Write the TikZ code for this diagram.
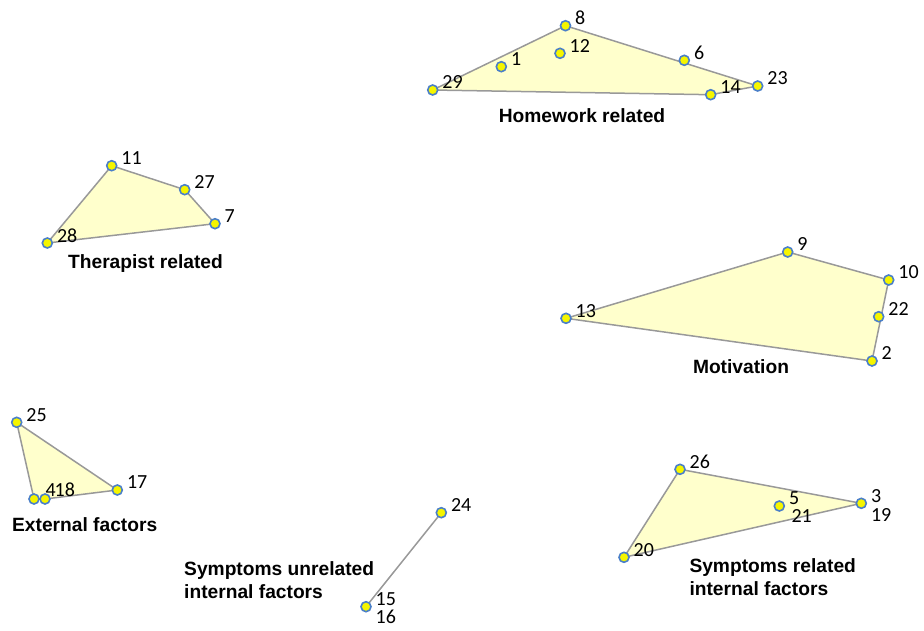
\documentclass[tikz,border=0pt]{standalone}
\usepackage{fontspec}
\setmainfont{Liberation Sans}
\newfontfamily\numfont{Carlito}
\usetikzlibrary{calc}
\definecolor{polyfill}{HTML}{FFFFCC}
\definecolor{polyline}{HTML}{999999}
\definecolor{dotline}{HTML}{4A7FC8}
\definecolor{dotfill}{HTML}{F5F500}
\tikzset{
  pt/.style={circle,draw=dotline,fill=dotfill,line width=1.6pt,minimum size=10pt,inner sep=0pt},
  poly/.style={draw=polyline,fill=polyfill,line width=1.5pt,line join=round},
  seg/.style={draw=polyline,line width=1.5pt},
  num/.style={font=\numfont\fontsize{20}{20}\selectfont,anchor=west,inner sep=0pt},
  grp/.style={font=\bfseries\fontsize{19.2}{23}\selectfont,inner sep=0pt,align=left}
}
\begin{document}
\begin{tikzpicture}[x=1pt,y=-1pt]
\useasboundingbox (0,0) rectangle (924,630);
% coordinates
\coordinate (c8) at (565.5,25.7);
\coordinate (c1) at (501.3,66.7);
\coordinate (c12) at (560,53.3);
\coordinate (c6) at (684.3,60.3);
\coordinate (c29) at (432.7,90);
\coordinate (c14) at (710.7,94.7);
\coordinate (c23) at (757.7,86);
\coordinate (c11) at (111.7,165.7);
\coordinate (c27) at (184.7,189.7);
\coordinate (c7) at (215,223.7);
\coordinate (c28) at (47.3,243);
\coordinate (c9) at (787.7,252);
\coordinate (c10) at (888.7,280);
\coordinate (c22) at (878.7,316.7);
\coordinate (c2) at (872,361);
\coordinate (c13) at (566,318.3);
\coordinate (c25) at (16.7,422.3);
\coordinate (c4) at (34,499);
\coordinate (c18) at (45,499);
\coordinate (c17) at (117.3,490);
\coordinate (c24) at (441.3,512.7);
\coordinate (c15) at (366,606.7);
\coordinate (c26) at (680,469.3);
\coordinate (c5) at (779.3,506);
\coordinate (c3) at (861.3,503.3);
\coordinate (c20) at (624,557.3);
% polygons
\path[poly] (c29) -- (c8) -- (c23) -- (c14) -- cycle;
\path[poly] (c28) -- (c11) -- (c27) -- (c7) -- cycle;
\path[poly] (c13) -- (c9) -- (c10) -- (c2) -- cycle;
\path[poly] (c25) -- (c17) -- (c18) -- (c4) -- cycle;
\path[poly] (c20) -- (c26) -- (c3) -- cycle;
\path[seg] (c15) -- (c24);
% dots
\foreach \n in {8,1,12,6,29,14,23,11,27,7,28,9,10,22,2,13,25,4,18,17,24,15,26,5,3,20}
  \node[pt] (n\n) at (c\n) {};
% number labels
\foreach \n in {8,1,12,6,29,14,23,11,27,7,28,9,10,22,2,13,25,17,24,15,26,5,3,20}
  \node[num] (l\n) at ($(c\n)+(9.5,-7.5)$) {\n};
\node[num] (l4) at ($(c4)+(11.5,-9)$) {4};
\node[num] (l18) at ($(c18)+(9.5,-9)$) {18};
\node[num] (l16) at ($(c15)+(9.5,10.5)$) {16};
\node[num] (l21) at ($(c5)+(12,10.5)$) {21};
\node[num] (l19) at ($(c3)+(9.5,11.5)$) {19};
% group labels
\node[grp] (g1) at (582,115.5) {Homework related};
\node[grp] (g2) at (145.5,264) {Therapist related};
\node[grp] (g3) at (741,367) {Motivation};
\node[grp] (g4) at (84.7,525) {External factors};
\node[grp,anchor=west] (g5) at (184,580.5) {Symptoms unrelated\\internal factors};
\node[grp,anchor=west] (g6) at (689.3,577) {Symptoms related\\internal factors};
\end{tikzpicture}
\end{document}
